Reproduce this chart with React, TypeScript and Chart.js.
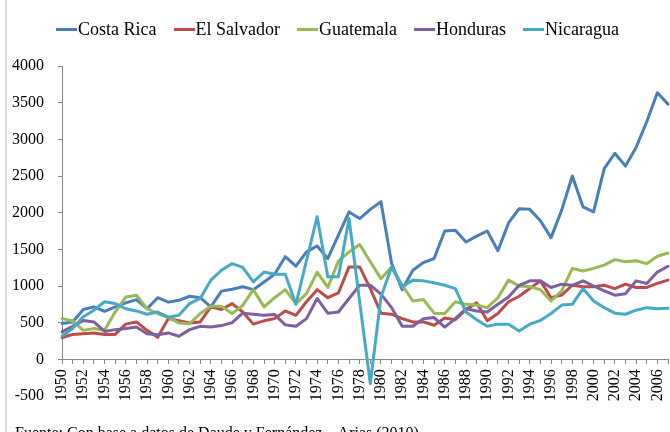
import React, { useEffect, useRef } from 'react';
import { Chart, registerables } from 'chart.js';

Chart.register(...registerables);

const years = [
  '1950', '1951', '1952', '1953', '1954', '1955', '1956', '1957', '1958', '1959',
  '1960', '1961', '1962', '1963', '1964', '1965', '1966', '1967', '1968', '1969',
  '1970', '1971', '1972', '1973', '1974', '1975', '1976', '1977', '1978', '1979',
  '1980', '1981', '1982', '1983', '1984', '1985', '1986', '1987', '1988', '1989',
  '1990', '1991', '1992', '1993', '1994', '1995', '1996', '1997', '1998', '1999',
  '2000', '2001', '2002', '2003', '2004', '2005', '2006', '2007',
];

const costaRica = [
  490, 510, 680, 715, 655, 715, 770, 815, 690, 840,
  780, 805, 860, 840, 715, 930, 955, 990, 950, 1055,
  1160, 1400, 1270, 1465, 1545, 1375, 1695, 2010, 1920, 2045,
  2150, 1310, 950, 1215, 1320, 1375, 1750, 1760, 1600, 1680,
  1750, 1480, 1860, 2055, 2045, 1890, 1660, 2035, 2500, 2080,
  2010, 2600, 2810, 2635, 2890, 3240, 3635, 3480,
];

const elSalvador = [
  295, 340, 350, 360, 340, 340, 480, 510, 395, 300,
  555, 525, 495, 510, 715, 680, 760, 645, 480, 525,
  555, 660, 600, 785, 950, 840, 905, 1260, 1260, 965,
  630, 615, 555, 510, 510, 465, 565, 540, 680, 770,
  525, 625, 785, 860, 965, 1070, 840, 875, 1010, 990,
  990, 1010, 965, 1025, 980, 980, 1035, 1080,
];

const guatemala = [
  555, 525, 395, 420, 395, 645, 850, 875, 690, 625,
  570, 495, 485, 625, 725, 725, 625, 735, 950, 715,
  840, 950, 760, 895, 1190, 980, 1340, 1465, 1565, 1330,
  1100, 1260, 1010, 795, 815, 630, 625, 785, 750, 740,
  705, 840, 1080, 1000, 990, 950, 795, 935, 1240, 1205,
  1240, 1285, 1360, 1330, 1345, 1305, 1405, 1450,
];

const honduras = [
  375, 450, 530, 510, 380, 405, 420, 440, 350, 335,
  360, 315, 405, 450, 440, 460, 500, 630, 615, 600,
  610, 470, 450, 555, 830, 630, 645, 830, 1010, 1010,
  890, 705, 450, 450, 555, 570, 440, 555, 690, 660,
  645, 750, 850, 1010, 1070, 1070, 980, 1025, 1010, 1070,
  1000, 935, 875, 895, 1070, 1035, 1190, 1270,
];

const nicaragua = [
  315, 420, 580, 670, 785, 760, 690, 660, 615, 645,
  575, 600, 760, 830, 1080, 1215, 1305, 1255, 1055, 1190,
  1160, 1160, 750, 1350, 1945, 1125, 1125, 1920, 780, -330,
  850, 1260, 990, 1080, 1070, 1045, 1010, 965, 645, 540,
  450, 480, 480, 385, 480, 530, 625, 740, 750, 965,
  795, 705, 630, 615, 670, 705, 690, 695,
];

const seriesNames = ['Costa Rica', 'El Salvador', 'Guatemala', 'Honduras', 'Nicaragua'];
const seriesColors = ['#4A7EBB', '#BE4B48', '#98B954', '#7D60A0', '#46AAC5'];
const seriesData = [costaRica, elSalvador, guatemala, honduras, nicaragua];

const yMin = -500;
const yMax = 4000;
const yStep = 500;

const sourceText = 'Fuente: Con base a datos de Daude y Fernández – Arias (2010)';

const FONT = "'Liberation Serif', 'Times New Roman', serif";
const AXIS_COLOR = '#868686';

const yAxisLinePlugin = {
  id: 'yAxisLine',
  beforeDatasetsDraw(chart: any) {
    const ys = chart.scales.y;
    const ctx = chart.ctx;
    const x = Math.round(chart.chartArea.left) + 0.5;
    ctx.save();
    ctx.strokeStyle = AXIS_COLOR;
    ctx.lineWidth = 1;
    ctx.beginPath();
    ctx.moveTo(x, ys.getPixelForValue(yMax));
    ctx.lineTo(x, ys.getPixelForValue(0));
    ctx.stroke();
    ctx.restore();
  },
};

export default function App() {
  const canvasRef = useRef<HTMLCanvasElement | null>(null);

  useEffect(() => {
    if (!canvasRef.current) return;
    const chart = new Chart(canvasRef.current, {
      type: 'line',
      data: {
        labels: years,
        datasets: seriesData.map((d, i) => ({
          label: seriesNames[i],
          data: d,
          borderColor: seriesColors[i],
          backgroundColor: seriesColors[i],
          borderWidth: 3,
          pointRadius: 0,
          pointHoverRadius: 0,
          tension: 0,
          borderJoinStyle: 'round' as const,
          borderCapStyle: 'round' as const,
          order: seriesData.length - i,
        })),
      },
      options: {
        animation: false,
        responsive: false,
        devicePixelRatio: 1,
        layout: { padding: { left: 12, right: 2, top: 66, bottom: 36 } },
        plugins: {
          legend: { display: false },
          tooltip: { enabled: false },
          title: { display: false },
        },
        scales: {
          x: {
            type: 'category',
            position: { y: 0 } as any,
            offset: false,
            grid: {
              display: true,
              drawOnChartArea: false,
              drawTicks: true,
              tickLength: 4,
              color: AXIS_COLOR,
            },
            border: { display: true, color: AXIS_COLOR, width: 1 },
            ticks: {
              autoSkip: false,
              maxRotation: 90,
              minRotation: 90,
              padding: 6,
              color: '#000',
              font: { family: FONT, size: 16 },
              callback: (_v: any, idx: number) => (idx % 2 === 0 ? years[idx] : ''),
            },
            afterFit: (scale: any) => {
              scale.paddingLeft = 0;
              scale.paddingRight = 0;
            },
          },
          y: {
            min: yMin,
            max: yMax,
            position: 'left',
            grid: {
              display: true,
              drawOnChartArea: false,
              drawTicks: true,
              tickLength: 4,
              color: (ctx: any) => (ctx.tick && ctx.tick.value < 0 ? 'rgba(0,0,0,0)' : AXIS_COLOR),
            },
            border: { display: false },
            ticks: {
              stepSize: yStep,
              padding: 14,
              color: '#000',
              font: { family: FONT, size: 16 },
              callback: (v: any) => String(v),
            },
            afterFit: (scale: any) => {
              scale.width = 50;
            },
          },
        },
      },
      plugins: [yAxisLinePlugin],
    });
    return () => chart.destroy();
  }, []);

  return (
    <div
      style={{
        position: 'fixed',
        left: 0,
        top: 0,
        width: 670,
        height: 432,
        overflow: 'hidden',
        background: '#fff',
      }}
    >
      <div
        style={{
          position: 'absolute',
          left: 5,
          top: 0,
          width: 2,
          height: 432,
          background: '#d9d9d9',
        }}
      />
      <canvas
        ref={canvasRef}
        width={670}
        height={432}
        style={{ position: 'absolute', left: 0, top: 0, width: 670, height: 432 }}
      />
      <div
        style={{
          position: 'absolute',
          left: 56,
          top: 19,
          display: 'flex',
          alignItems: 'center',
          fontFamily: FONT,
          fontSize: 18,
          lineHeight: '20px',
          color: '#000',
          whiteSpace: 'nowrap',
        }}
      >
        {seriesNames.map((name, i) => (
          <div key={name} style={{ display: 'flex', alignItems: 'center', marginRight: 17 }}>
            <span
              style={{
                display: 'inline-block',
                width: 21,
                height: 3,
                background: seriesColors[i],
                marginRight: 1,
              }}
            />
            <span>{name}</span>
          </div>
        ))}
      </div>
      <div
        style={{
          position: 'absolute',
          left: 15,
          top: 425,
          fontFamily: FONT,
          fontSize: 16,
          lineHeight: '16px',
          color: '#000',
          whiteSpace: 'nowrap',
        }}
      >
        {sourceText}
      </div>
    </div>
  );
}
